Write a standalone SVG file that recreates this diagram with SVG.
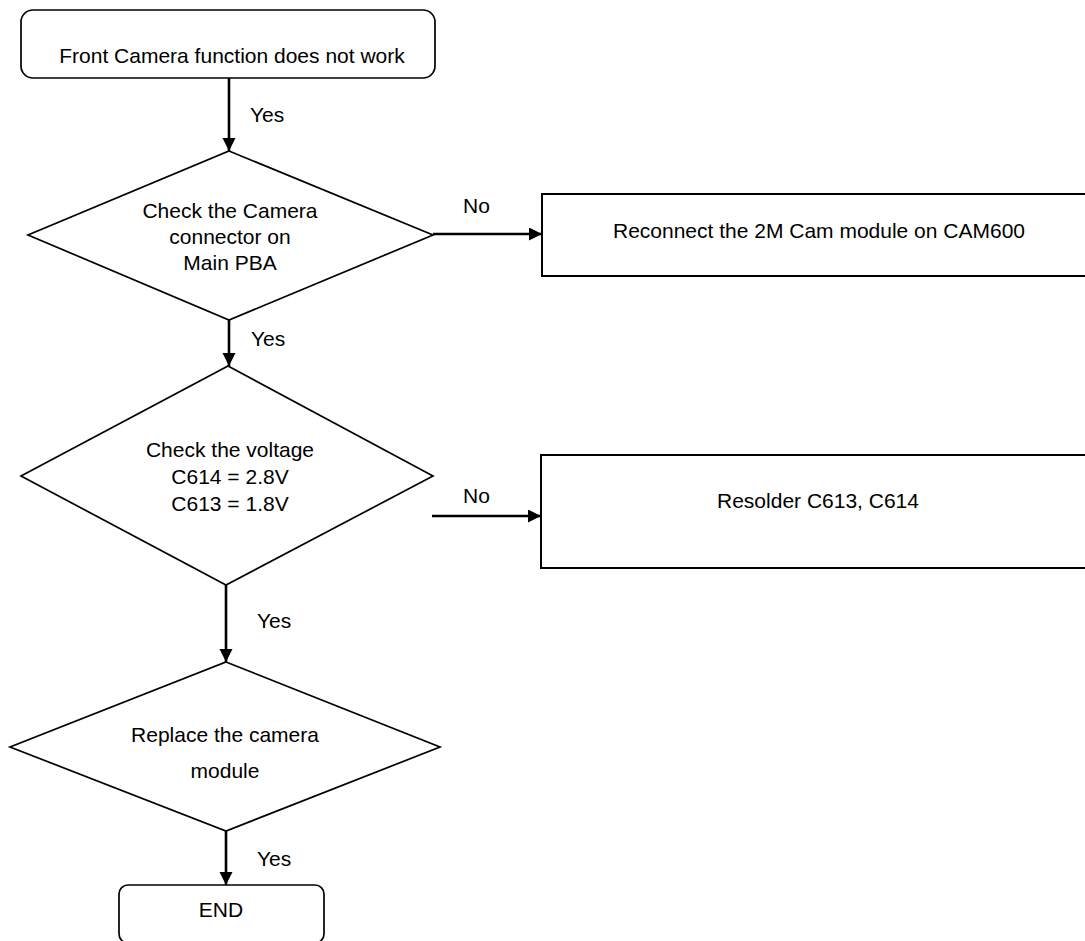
<svg xmlns="http://www.w3.org/2000/svg" width="1085" height="941" viewBox="0 0 1085 941">
<style>
.shape{fill:#fff;stroke:#000;stroke-width:1.7}
.box{fill:#fff;stroke:#000;stroke-width:2}
.t{font-family:"Liberation Sans",Arial,sans-serif;font-size:21px;fill:#000}
.c{text-anchor:middle}
.edge{stroke:#000;stroke-width:2.6;fill:none;marker-end:url(#ah)}
</style>
<defs>
<marker id="ah" markerUnits="userSpaceOnUse" markerWidth="14" markerHeight="14" refX="13" refY="6.5" orient="auto">
<path d="M0,0 L13,6.5 L0,13 z" fill="#000"/>
</marker>
</defs>
<rect width="1085" height="941" fill="#fff"/>
<g id="connectors">
<line class="edge" x1="229" y1="78" x2="229" y2="151"/>
<line class="edge" x1="433" y1="234" x2="542" y2="234"/>
<line class="edge" x1="229" y1="320" x2="229" y2="366"/>
<line class="edge" x1="432" y1="516" x2="541" y2="516"/>
<line class="edge" x1="226" y1="585" x2="226" y2="662"/>
<line class="edge" x1="226" y1="831" x2="226" y2="885"/>
<text class="t" x="250" y="122">Yes</text>
<text class="t" x="463" y="213">No</text>
<text class="t" x="251" y="346">Yes</text>
<text class="t" x="463" y="503">No</text>
<text class="t" x="257" y="628">Yes</text>
<text class="t" x="257" y="866">Yes</text>
</g>
<g id="start">
<rect class="shape" x="21" y="10" width="414" height="68" rx="12"/>
<text class="t c" x="232" y="63">Front Camera function does not work</text>
</g>
<g id="check-connector">
<polygon class="shape" points="229,151 433,235 229,320 28,235"/>
<text class="t c" x="230" y="218">Check the Camera</text>
<text class="t c" x="230" y="244">connector on</text>
<text class="t c" x="230" y="270">Main PBA</text>
</g>
<g id="reconnect">
<rect class="box" x="542" y="194" width="560" height="82"/>
<text class="t c" x="819" y="238">Reconnect the 2M Cam module on CAM600</text>
</g>
<g id="check-voltage">
<polygon class="shape" points="228,366 433,476 226,585 21,476"/>
<text class="t c" x="230" y="457">Check the voltage</text>
<text class="t c" x="230" y="484">C614 = 2.8V</text>
<text class="t c" x="230" y="511">C613 = 1.8V</text>
</g>
<g id="resolder">
<rect class="box" x="541" y="455" width="560" height="113"/>
<text class="t c" x="818" y="508">Resolder C613, C614</text>
</g>
<g id="replace">
<polygon class="shape" points="226,662 440,747 226,831 10,747"/>
<text class="t c" x="225" y="742">Replace the camera</text>
<text class="t c" x="225" y="778">module</text>
</g>
<g id="end">
<rect class="shape" x="119" y="885" width="205" height="58" rx="9"/>
<text class="t c" x="221" y="917">END</text>
</g>
</svg>
